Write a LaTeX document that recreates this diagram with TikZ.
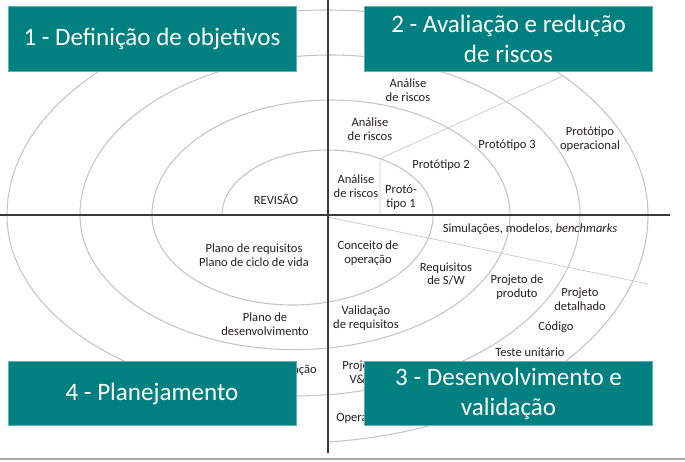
\documentclass[tikz,border=0pt]{standalone}
\usepackage{fontspec}
\setmainfont{Carlito}
\definecolor{SPTeal}{HTML}{008080}
\definecolor{SPEdge}{HTML}{5FB3B3}
\definecolor{SPRing}{HTML}{C4C4C4}
\definecolor{SPAxis}{HTML}{3A3A3A}
\definecolor{SPRay}{HTML}{C8C8C8}
\definecolor{SPInk}{HTML}{231F20}
\definecolor{SPFrame}{HTML}{A6A6A6}
\tikzset{
  ring/.style={SPRing,line width=0.8pt},
  axis/.style={SPAxis,line width=0.9pt},
  ray/.style={SPRay,line width=0.5pt},
  frame/.style={SPFrame,line width=1.5pt},
  note/.style={text=SPInk,font=\fontsize{9.4}{10.2}\selectfont,align=center,inner sep=0pt},
  phase/.style={draw=SPEdge,line width=0.6pt,fill=SPTeal,text=white,
                font=\fontsize{18.8}{22.5}\selectfont,align=center,
                minimum width=216pt,minimum height=48.5pt,inner sep=0pt},
}

\begin{document}
\begin{tikzpicture}[x=0.75pt,y=0.75pt]
    \useasboundingbox (-328,-246) rectangle (357,215);

    % spiral, half ellipses
    \draw[ring] (-106,0) arc[start angle=180,end angle=0,x radius=105.5,y radius=65]
      arc[start angle=0,end angle=-180,x radius=140.5,y radius=90]
      arc[start angle=180,end angle=0,x radius=179,y radius=115]
      arc[start angle=0,end angle=-180,x radius=215,y radius=134.6]
      arc[start angle=180,end angle=0,x radius=250,y radius=160]
      arc[start angle=0,end angle=-180,x radius=286.5,y radius=181]
      arc[start angle=180,end angle=0,x radius=320.5,y radius=205]
      arc[start angle=0,end angle=-84.5,x radius=354,y radius=228];

    % radial lines
    \coordinate (proto1foot) at (52,0);
    \coordinate (proto1top) at (52,56.4);
    \coordinate (proto3tip) at (235,139);
    \coordinate (devstart) at (0,-2);
    \coordinate (devtip) at (320,-69);
    \draw[ray] (proto1foot) -- (proto1top) -- (proto3tip);
    \draw[ray] (devstart) -- (devtip);

    % axes
    \coordinate (north) at (0,215);
    \coordinate (south) at (0,-238);
    \coordinate (west) at (-328,0);
    \coordinate (east) at (342,0);
    \draw[axis] (north) -- (south);
    \draw[axis] (west) -- (east);
    \coordinate (frameleft) at (-328,-244);
    \coordinate (frameright) at (357,-244);
    \draw[frame] (frameleft) -- (frameright);

    % labels
    \node[note] (revisao) at (-52,15) {REVISÃO};
    \node[note] (risk1) at (28,29) {Análise\\de riscos};
    \node[note] (proto1) at (73,18) {Protó-\\tipo 1};
    \node[note] (risk2) at (42,86) {Análise\\de riscos};
    \node[note] (proto2) at (113,50) {Protótipo 2};
    \node[note] (risk3) at (80,125) {Análise\\de riscos};
    \node[note] (proto3) at (179,70) {Protótipo 3};
    \node[note] (protoop) at (262,76) {Protótipo\\operacional};
    \node[note] (simul) at (202,-14) {Simulações, modelos, \emph{benchmarks}};
    \node[note] (concept) at (40,-38) {Conceito de\\operação};
    \node[note] (reqsw) at (118,-59) {Requisitos\\de S/W};
    \node[note] (prodesign) at (189,-72) {Projeto de\\produto};
    \node[note] (detdesign) at (252,-84) {Projeto\\detalhado};
    \node[note] (reqval) at (38,-103) {Validação\\de requisitos};
    \node[note] (code) at (228,-112) {Código};
    \node[note] (unittest) at (202,-137) {Teste unitário};
    \node[note] (reqplan) at (-74,-40) {Plano de requisitos\\Plano de ciclo de vida};
    \node[note] (devplan) at (-63,-109) {Plano de\\desenvolvimento};
    \node[note,anchor=east] (integplan) at (-11,-155) {Plano de integração};
    \node[note] (vv) at (33,-157) {Projeto\\V\&V};
    \node[note,anchor=west] (oper) at (8,-203) {Operação};

    % phase boxes
    \node[phase] (objectives) at (-176,176) {1 - Definição de objetivos};
    \node[phase] (risks) at (180.5,176) {2 - Avaliação e redução\\de riscos};
    \node[phase] (planning) at (-176,-178.5) {4 - Planejamento};
    \node[phase] (develop) at (180.5,-178.5) {3 - Desenvolvimento e\\validação};
\end{tikzpicture}
\end{document}
